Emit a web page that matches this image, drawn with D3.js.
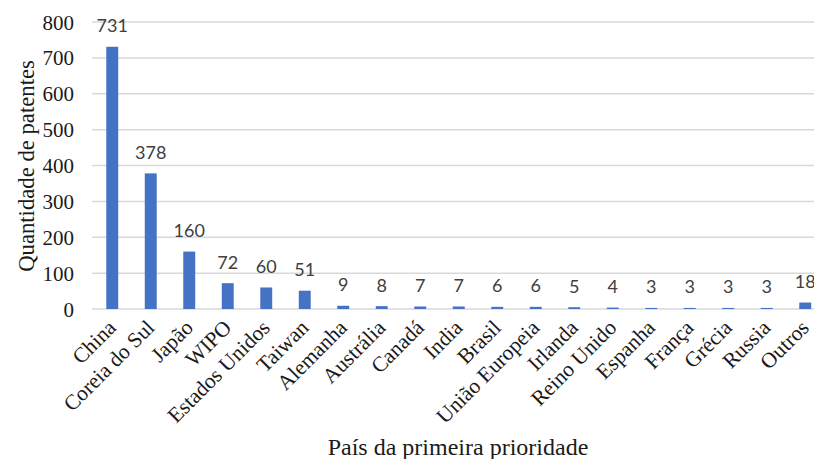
<!DOCTYPE html>
<html>
<head>
<meta charset="utf-8">
<script src="https://cdn.jsdelivr.net/npm/d3@7"></script>
<style>
  body { margin: 0; background: #fff; }
  svg { display: block; }
  .serif { font-family: 'Liberation Serif', 'DejaVu Serif', serif; fill: #1a1a1a; }
  .vlabel { font-family: Lato, 'Open Sans', sans-serif; fill: #404040; }
</style>
</head>
<body>
<div id="chart"></div>
<script>
// data
let countries = ['China', 'Coreia do Sul', 'Japão', 'WIPO', 'Estados Unidos', 'Taiwan', 'Alemanha',
    'Austrália', 'Canadá', 'India', 'Brasil', 'União Europeia', 'Irlanda', 'Reino Unido',
    'Espanha', 'França', 'Grécia', 'Russia', 'Outros']
let patents = [731, 378, 160, 72, 60, 51, 9, 8, 7, 7, 6, 6, 5, 4, 3, 3, 3, 3, 18]
let yTicks = [0, 100, 200, 300, 400, 500, 600, 700, 800]

let width = 814,
    height = 459

let svg = d3.select('#chart').append('svg')
    .attr('width', width)
    .attr('height', height)

let plotLeft = 93, plotTop = 22, plotBottom = 309

let x = d3.scaleBand()
    .domain(countries)
    .range([plotLeft, plotLeft + 19 * 38.5])
    .paddingInner(0.69)
    .paddingOuter(0.345)

let y = d3.scaleLinear()
    .domain([0, 800])
    .range([plotBottom, plotTop])

// gridlines
svg.append('g')
    .selectAll('line')
    .data(yTicks)
    .enter()
    .append('line')
    .attr('x1', plotLeft - 1)
    .attr('x2', width)
    .attr('y1', function(d){ return y(d) })
    .attr('y2', function(d){ return y(d) })
    .attr('stroke', '#d9d9d9')
    .attr('stroke-width', 1.5)

// y tick labels
svg.append('g')
    .selectAll('text')
    .data(yTicks)
    .enter()
    .append('text')
    .attr('class', 'serif')
    .attr('x', 74)
    .attr('y', function(d){ return y(d) + 7.5 })
    .attr('text-anchor', 'end')
    .attr('font-size', 21)
    .text(function(d){ return d })

let data = countries.map(function(c, i){ return {name: c, value: patents[i]} })

// bars
svg.append('g')
    .selectAll('rect')
    .data(data)
    .enter()
    .append('rect')
    .attr('x', function(d){ return x(d.name) })
    .attr('y', function(d){ return y(d.value) })
    .attr('width', x.bandwidth())
    .attr('height', function(d){ return plotBottom - y(d.value) })
    .attr('fill', '#4472c4')

// value labels
svg.append('g')
    .selectAll('text')
    .data(data)
    .enter()
    .append('text')
    .attr('class', 'vlabel')
    .attr('x', function(d){ return x(d.name) + x.bandwidth() / 2 })
    .attr('y', function(d){ return y(d.value) - 14.5 })
    .attr('text-anchor', 'middle')
    .attr('font-size', 18)
    .text(function(d){ return d.value })

// category labels
svg.append('g')
    .selectAll('text')
    .data(countries)
    .enter()
    .append('text')
    .attr('class', 'serif')
    .attr('transform', function(d){
        return 'translate(' + (x(d) + x.bandwidth() / 2 + 5) + ',' + (plotBottom + 20) + ') rotate(-45)'
    })
    .attr('text-anchor', 'end')
    .attr('font-size', 21.5)
    .text(function(d){ return d })

// axis titles
svg.append('text')
    .attr('class', 'serif')
    .attr('transform', 'translate(34,' + 166 + ') rotate(-90)')
    .attr('text-anchor', 'middle')
    .attr('font-size', 22.7)
    .text('Quantidade de patentes')

svg.append('text')
    .attr('class', 'serif')
    .attr('x', 458)
    .attr('y', 455)
    .attr('text-anchor', 'middle')
    .attr('font-size', 24)
    .text('País da primeira prioridade')
</script>
</body>
</html>
